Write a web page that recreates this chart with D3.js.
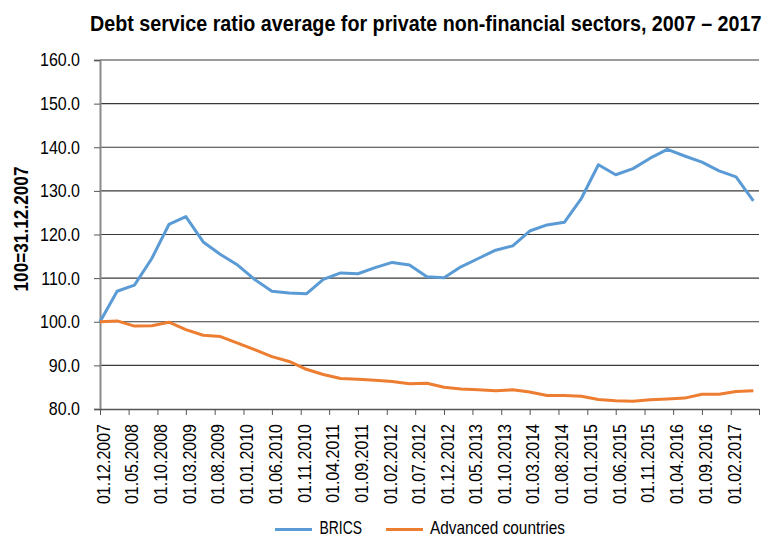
<!DOCTYPE html>
<html>
<head>
<meta charset="utf-8">
<script src="https://cdn.jsdelivr.net/npm/d3@7"></script>
<style>
  html, body { margin: 0; padding: 0; background: #fff; }
  svg { display: block; }
  text { font-family: "Liberation Sans", Arial, Helvetica, sans-serif; fill: #000; }
</style>
</head>
<body>
<svg id="chart" width="766" height="538"></svg>
<script>
const title = "Debt service ratio average for private non-financial sectors, 2007 \u2013 2017";
const yAxisTitle = "100=31.12.2007";
const seriesNames = ["BRICS", "Advanced countries"];
const seriesColors = ["#5B9BD5", "#ED7D31"];

const dates = [
  "01.12.2007","01.03.2008","01.06.2008","01.09.2008","01.12.2008","01.03.2009","01.06.2009","01.09.2009",
  "01.12.2009","01.03.2010","01.06.2010","01.09.2010","01.12.2010","01.03.2011","01.06.2011","01.09.2011",
  "01.12.2011","01.03.2012","01.06.2012","01.09.2012","01.12.2012","01.03.2013","01.06.2013","01.09.2013",
  "01.12.2013","01.03.2014","01.06.2014","01.09.2014","01.12.2014","01.03.2015","01.06.2015","01.09.2015",
  "01.12.2015","01.03.2016","01.06.2016","01.09.2016","01.12.2016","01.03.2017","01.06.2017"
];
const brics = [
  100.0, 107.0, 108.4, 114.5, 122.3, 124.1, 118.3, 115.4, 113.0, 109.7,
  107.0, 106.6, 106.4, 109.7, 111.2, 111.0, 112.4, 113.6, 113.0, 110.3,
  110.1, 112.6, 114.5, 116.4, 117.4, 120.8, 122.2, 122.8, 128.3, 136.0,
  133.7, 135.1, 137.5, 139.5, 138.0, 136.6, 134.6, 133.2, 127.7
];
const advanced = [
  100.0, 100.2, 99.0, 99.1, 99.9, 98.2, 96.9, 96.6, 95.1, 93.6,
  92.0, 90.9, 89.1, 87.9, 87.0, 86.8, 86.6, 86.3, 85.8, 85.9,
  85.0, 84.6, 84.4, 84.2, 84.4, 83.9, 83.1, 83.1, 82.9, 82.2,
  81.9, 81.8, 82.1, 82.3, 82.5, 83.4, 83.4, 84.0, 84.2
];
const xTickLabels = [
  "01.12.2007","01.05.2008","01.10.2008","01.03.2009","01.08.2009","01.01.2010","01.06.2010","01.11.2010",
  "01.04.2011","01.09.2011","01.02.2012","01.07.2012","01.12.2012","01.05.2013","01.10.2013","01.03.2014",
  "01.08.2014","01.01.2015","01.06.2015","01.11.2015","01.04.2016","01.09.2016","01.02.2017"
];
const xDomainLabels = ["01.12.2007", "01.07.2017"];
const yTicks = [80, 90, 100, 110, 120, 130, 140, 150, 160];

const parse = d3.timeParse("%d.%m.%Y");
const fmt = d3.timeFormat("%d.%m.%Y");

// emulate a condensed face by compressing glyphs horizontally
function condense(sel, factor) {
  sel.each(function () {
    const w = this.getComputedTextLength();
    if (w > 0) d3.select(this).attr("textLength", w * factor).attr("lengthAdjust", "spacingAndGlyphs");
  });
}

const svg = d3.select("#chart");
const pLeft = 100, pRight = 759, pTop = 60, pBottom = 409;

const x = d3.scaleTime().domain(xDomainLabels.map(parse)).range([pLeft, pRight]);
const y = d3.scaleLinear().domain([80, 160]).range([pBottom, pTop]);

// title (condensed via horizontal scale so its box matches what is drawn)
const titleText = svg.append("text")
  .attr("font-size", 22).attr("font-weight", "bold")
  .text(title);
const tw = titleText.node().getComputedTextLength();
titleText.attr("transform", `translate(90,31) scale(${672 / tw},1)`);

// gridlines
svg.append("g").selectAll("line").data(yTicks.filter(v => v > 80)).join("line")
  .attr("x1", pLeft).attr("x2", pRight)
  .attr("y1", d => y(d)).attr("y2", d => y(d))
  .attr("stroke", "#3a3a3a").attr("stroke-width", 1.2);

// y axis
const yAxis = svg.append("g").attr("transform", `translate(${pLeft},0)`)
  .call(d3.axisLeft(y).tickValues(yTicks).tickFormat(d3.format(".1f")).tickSize(6).tickPadding(14));
yAxis.select(".domain").attr("stroke", "#8a8a8a").attr("stroke-width", 2);
yAxis.selectAll(".tick line").attr("stroke", "#555");
yAxis.selectAll(".tick text").attr("font-size", 18.6).attr("fill", "#111")
  .attr("font-family", '"Liberation Sans", Arial, sans-serif')
  .call(condense, 0.86);

// x axis
const xAxis = svg.append("g").attr("transform", `translate(0,${pBottom})`)
  .call(d3.axisBottom(x).tickValues(xTickLabels.map(parse).concat([parse(xDomainLabels[1])]))
    .tickFormat(d => xTickLabels.includes(fmt(d)) ? fmt(d) : "").tickSize(6).tickSizeOuter(0));
xAxis.select(".domain").attr("stroke", "#555").attr("stroke-width", 1.5);
xAxis.selectAll(".tick line").attr("stroke", "#555");
xAxis.selectAll(".tick text")
  .attr("font-size", 18.6).attr("fill", "#111")
  .attr("font-family", '"Liberation Sans", Arial, sans-serif')
  .attr("transform", "rotate(-90)")
  .attr("text-anchor", "end")
  .attr("x", -15).attr("y", 0).attr("dy", "0.5em")
  .call(condense, 0.86);

// y axis title
svg.append("text")
  .attr("transform", `translate(28,229) rotate(-90)`)
  .attr("text-anchor", "middle")
  .attr("font-size", 20).attr("font-weight", "bold")
  .attr("textLength", 125).attr("lengthAdjust", "spacingAndGlyphs")
  .text(yAxisTitle);

// lines
const parsedDates = dates.map(parse);
const line = d3.line().x((d, i) => x(parsedDates[i])).y(d => y(d));
[brics, advanced].forEach((s, k) => {
  svg.append("path").datum(s)
    .attr("fill", "none").attr("stroke", seriesColors[k])
    .attr("stroke-width", 3).attr("stroke-linejoin", "round")
    .attr("d", line);
});

// legend
const legendPos = [{lx: 275, tx: 319.5, w: 42.5}, {lx: 386, tx: 430, w: 135}];
seriesNames.forEach((n, k) => {
  svg.append("line")
    .attr("x1", legendPos[k].lx).attr("x2", legendPos[k].lx + 37)
    .attr("y1", 529.5).attr("y2", 529.5)
    .attr("stroke", seriesColors[k]).attr("stroke-width", 3);
  svg.append("text")
    .attr("x", legendPos[k].tx).attr("y", 533.5)
    .attr("font-size", 18.6).attr("fill", "#111")
    .attr("textLength", legendPos[k].w).attr("lengthAdjust", "spacingAndGlyphs")
    .text(n);
});
</script>
</body>
</html>
